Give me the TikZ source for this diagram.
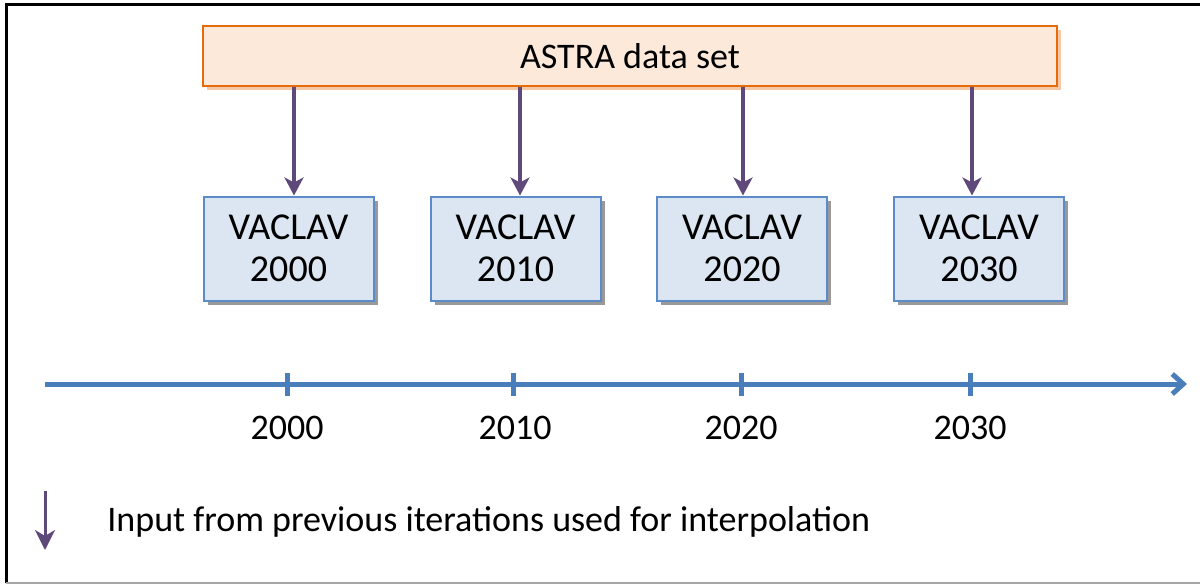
\documentclass[tikz,border=0pt]{standalone}
\usepackage{fontspec}
\setmainfont{Carlito}
\usetikzlibrary{arrows.meta,shadows}
\definecolor{astrafill}{HTML}{FCE9DA}
\definecolor{astraline}{HTML}{E46C0A}
\definecolor{astrashade}{HTML}{F5C9A6}
\definecolor{vaclavfill}{HTML}{DCE6F2}
\definecolor{vaclavline}{HTML}{5B8BC8}
\definecolor{feedpurple}{HTML}{5F497A}
\definecolor{axisblue}{HTML}{4A7EBB}
\tikzset{
  astrabox/.style={draw=astraline, line width=1pt, fill=astrafill, minimum width=427pt, minimum height=30pt,
    drop shadow={shadow xshift=2pt, shadow yshift=-2pt, fill=astrashade, opacity=1}},
  vaclavbox/.style={draw=vaclavline, line width=1pt, fill=vaclavfill, minimum width=85pt, minimum height=52pt,
    align=center, font=\fontsize{19pt}{21pt}\selectfont,
    drop shadow={shadow xshift=2pt, shadow yshift=-2pt, fill=black!40, opacity=1}},
  feed/.style={draw=feedpurple, line width=2.25pt, -{Stealth[length=9pt,width=9.5pt,inset=2.5pt]}},
  keyarrow/.style={draw=feedpurple, line width=1.5pt, -{Stealth[length=10pt,width=10pt,inset=3pt]}},
  timeline/.style={draw=axisblue, line width=2.5pt, -{Straight Barb[length=5.5pt,width=10pt]}},
  tick/.style={draw=axisblue, line width=2.5pt},
  yearlabel/.style={font=\fontsize{18pt}{21pt}\selectfont}
}
\begin{document}
\begin{tikzpicture}[x=0.5pt,y=-0.5pt]
\useasboundingbox (0,0) rectangle (1200,585);
\draw [line width=1.5pt] (6,583) -- (6,4) -- (1200,4);
\draw [line width=0.6pt,color=black!35] (6,583) -- (1200,583);

\node [astrabox] (astra) at (630,56) {\fontsize{18pt}{21pt}\selectfont ASTRA data set};

\node [vaclavbox] (v2000) at (288.5,248.5) {VACLAV\\2000};
\node [vaclavbox] (v2010) at (515.5,248.5) {VACLAV\\2010};
\node [vaclavbox] (v2020) at (742,248.5) {VACLAV\\2020};
\node [vaclavbox] (v2030) at (979,248.5) {VACLAV\\2030};

\draw [feed] ([xshift=2.75pt]astra.south -| v2000.north) -- ([xshift=2.75pt]v2000.north);
\draw [feed] ([xshift=2.25pt]astra.south -| v2010.north) -- ([xshift=2.25pt]v2010.north);
\draw [feed] ([xshift=0.5pt]astra.south -| v2020.north) -- ([xshift=0.5pt]v2020.north);
\draw [feed] ([xshift=-3.5pt]astra.south -| v2030.north) -- ([xshift=-3.5pt]v2030.north);

\coordinate (axisstart) at (45,384);
\coordinate (axisend) at (1187,384);
\draw [timeline] (axisstart) -- (axisend);

\coordinate (t2000) at (287,384);
\coordinate (t2010) at (513,384);
\coordinate (t2020) at (741,384);
\coordinate (t2030) at (970,384);
\draw [tick] ([yshift=5.75pt]t2000) -- ([yshift=-5.75pt]t2000);
\draw [tick] ([yshift=5.75pt]t2010) -- ([yshift=-5.75pt]t2010);
\draw [tick] ([yshift=5.75pt]t2020) -- ([yshift=-5.75pt]t2020);
\draw [tick] ([yshift=5.75pt]t2030) -- ([yshift=-5.75pt]t2030);

\node [yearlabel] (l2000) at (287,428) {2000};
\node [yearlabel] (l2010) at (515,428) {2010};
\node [yearlabel] (l2020) at (741,428) {2020};
\node [yearlabel] (l2030) at (970,428) {2030};

\coordinate (keytop) at (45,491);
\coordinate (keybot) at (45,550);
\draw [keyarrow] (keytop) -- (keybot);
\node [yearlabel,anchor=west,inner sep=0pt] (keytext) at (107,522) {Input from previous iterations used for interpolation};
\end{tikzpicture}
\end{document}
